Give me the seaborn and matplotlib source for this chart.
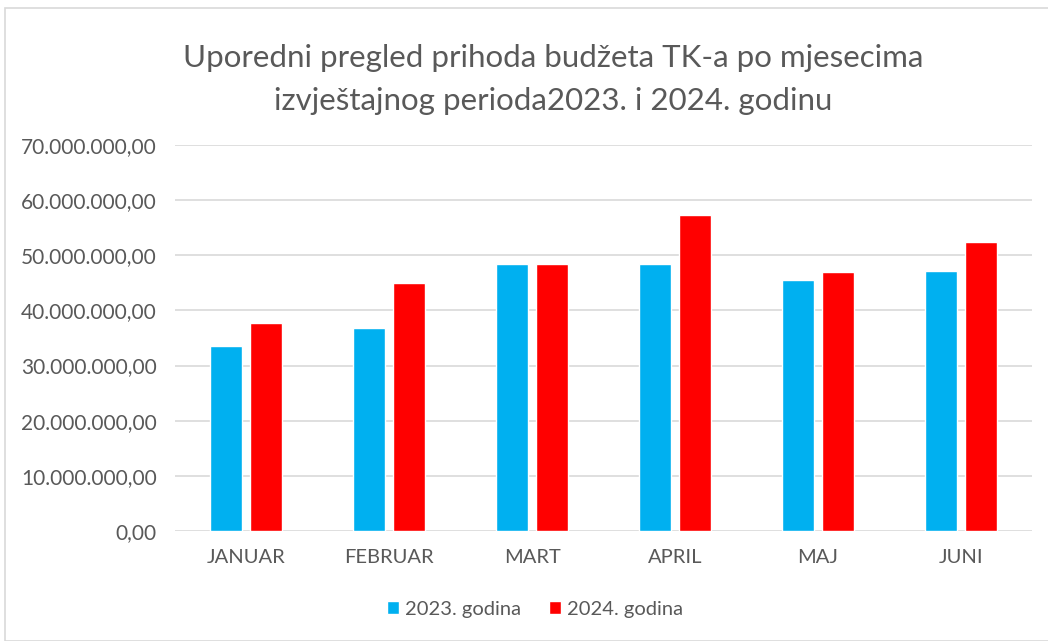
import numpy as np
import pandas as pd
import matplotlib
matplotlib.use("Agg")
import matplotlib.pyplot as plt
import seaborn as sns
from matplotlib.ticker import FuncFormatter, MultipleLocator
from matplotlib.patches import Rectangle

# Podaci
mjeseci = ["JANUAR", "FEBRUAR", "MART", "APRIL", "MAJ", "JUNI"]
prihodi_2023 = [33500000, 36800000, 48400000, 48450000, 45600000, 47100000]
prihodi_2024 = [37750000, 44950000, 48400000, 57300000, 47050000, 52350000]
serije = ["2023. godina", "2024. godina"]
boje = ["#00B0F0", "#FF0000"]

df = pd.DataFrame({
    "mjesec": mjeseci * 2,
    "iznos": prihodi_2023 + prihodi_2024,
    "godina": [serije[0]] * len(mjeseci) + [serije[1]] * len(mjeseci),
})

sns.set_style("white")
plt.rcParams['font.family'] = ['Lato', 'DejaVu Sans']

fig = plt.figure(figsize=(10.48, 6.41), dpi=100)
ax = fig.add_axes([175 / 1048, 1 - 531 / 641, (1032 - 175) / 1048, (531 - 145) / 641])

sns.barplot(data=df, x="mjesec", y="iznos", hue="godina", palette=boje,
            saturation=1, width=0.56, gap=0.2, ax=ax, legend=True)

ax.set_ylim(0, 70000000)
ax.yaxis.set_major_locator(MultipleLocator(10000000))


def eu_format(v, pos):
    s = f"{v:,.2f}"
    return s.replace(",", "X").replace(".", ",").replace("X", ".")


ax.yaxis.set_major_formatter(FuncFormatter(eu_format))
ax.grid(axis="y", color="#D9D9D9", linewidth=1.2)
ax.set_axisbelow(True)
for s in ["top", "right", "left", "bottom"]:
    ax.spines[s].set_visible(False)
ax.set_xlabel("")
ax.set_ylabel("")
ax.tick_params(axis="x", length=0, labelsize=14.5, colors="#595959", pad=13)
ax.tick_params(axis="y", length=0, labelsize=15, colors="#595959", pad=13)

leg = ax.legend(loc="center", bbox_to_anchor=(535 / 1048, 1 - 609 / 641),
                bbox_transform=fig.transFigure, ncol=2, frameon=False,
                fontsize=14.5, handlelength=0.6, handleheight=0.6,
                handletextpad=0.3, columnspacing=1.4)
for t in leg.get_texts():
    t.set_color("#595959")

fig.text(553 / 1048, 1 - 58 / 641, "Uporedni pregled prihoda budžeta TK-a po mjesecima",
         ha="center", va="center", fontsize=22.5, color="#595959")
fig.text(553 / 1048, 1 - 101 / 641, "izvještajnog perioda2023. i 2024. godinu",
         ha="center", va="center", fontsize=22.5, color="#595959")

fig.patches.append(Rectangle((5 / 1048, 0), 1.1, 1 - 8 / 641, transform=fig.transFigure,
                             fill=False, edgecolor="#D9D9D9", linewidth=1.2))

fig.savefig("out.png", dpi=100)
